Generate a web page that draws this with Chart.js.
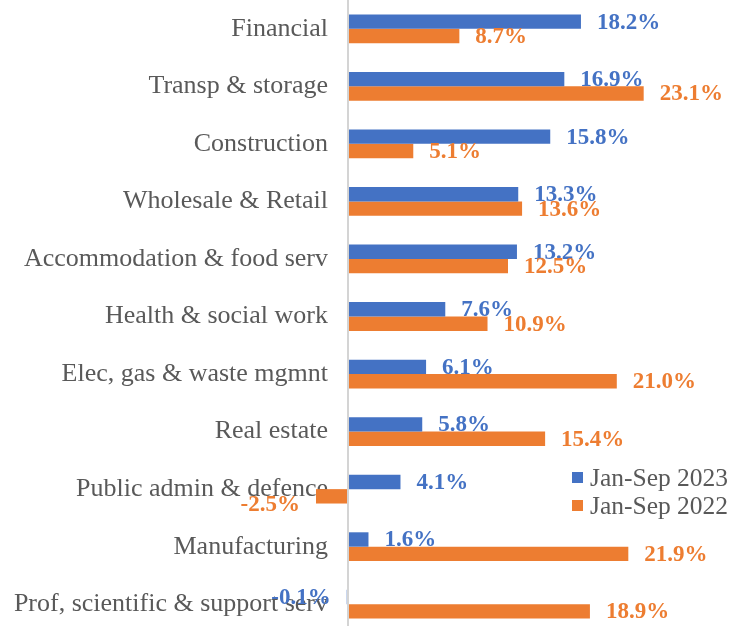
<!DOCTYPE html>
<html>
<head>
<meta charset="utf-8">
<script src="https://cdn.jsdelivr.net/npm/chart.js@4/dist/chart.umd.min.js"></script>
<style>
  html, body { margin: 0; padding: 0; background: #ffffff; overflow: hidden; }
  #wrap { position: relative; width: 732px; height: 633px; }
</style>
</head>
<body>
<div id="wrap"><canvas id="c"></canvas></div>
<script>
const categories = ['Financial', 'Transp & storage', 'Construction', 'Wholesale & Retail',
  'Accommodation & food serv', 'Health & social work', 'Elec, gas & waste mgmnt',
  'Real estate', 'Public admin & defence', 'Manufacturing', 'Prof, scientific & support serv'];
const seriesNames = ['Jan-Sep 2023', 'Jan-Sep 2022'];
const values2023 = [18.2, 16.9, 15.8, 13.3, 13.2, 7.6, 6.1, 5.8, 4.1, 1.6, -0.1];
const values2022 = [8.7, 23.1, 5.1, 13.6, 12.5, 10.9, 21.0, 15.4, -2.5, 21.9, 18.9];

const BLUE = '#4472C4';
const ORANGE = '#ED7D31';
const SERIF = '"Liberation Serif", "Times New Roman", serif';

const valueLabels = {
  id: 'valueLabels',
  afterDatasetsDraw(chart) {
    const ctx = chart.ctx;
    ctx.save();
    ctx.font = 'bold 23px ' + SERIF;
    ctx.textBaseline = 'middle';
    chart.data.datasets.forEach((ds, di) => {
      const meta = chart.getDatasetMeta(di);
      meta.data.forEach((el, i) => {
        const v = ds.data[i];
        const txt = v.toFixed(1) + '%';
        ctx.fillStyle = ds.backgroundColor;
        const dy = v < -1 ? 9 : 1;
        if (v >= 0) {
          ctx.textAlign = 'left';
          ctx.fillText(txt, el.x + 16, el.y + dy);
        } else {
          ctx.textAlign = 'right';
          ctx.fillText(txt, el.x - 16, el.y + dy);
        }
      });
    });
    ctx.restore();
  }
};

const customLegend = {
  id: 'customLegend',
  afterDraw(chart) {
    const ctx = chart.ctx;
    ctx.save();
    ctx.font = '25.5px ' + SERIF;
    ctx.textBaseline = 'middle';
    ctx.textAlign = 'left';
    const x0 = 572, y0 = 478, gap = 28;
    chart.data.datasets.forEach((ds, di) => {
      const y = y0 + di * gap;
      ctx.fillStyle = ds.backgroundColor;
      ctx.fillRect(x0, y - 6, 11, 11);
      ctx.fillStyle = '#595959';
      ctx.fillText(ds.label, x0 + 18, y + 1);
    });
    ctx.restore();
  }
};

new Chart(document.getElementById('c'), {
  type: 'bar',
  data: {
    labels: categories,
    datasets: [
      { label: seriesNames[0], data: values2023, backgroundColor: BLUE, borderWidth: 0,
        categoryPercentage: 0.5, barPercentage: 1.0, clip: false },
      { label: seriesNames[1], data: values2022, backgroundColor: ORANGE, borderWidth: 0,
        categoryPercentage: 0.5, barPercentage: 1.0, clip: false }
    ]
  },
  options: {
    indexAxis: 'y',
    responsive: true,
    maintainAspectRatio: false,
    animation: false,
    layout: { padding: 0 },
    plugins: {
      legend: { display: false },
      tooltip: { enabled: false },
      title: { display: false }
    },
    scales: {
      x: {
        min: -1.5625,
        max: 30,
        ticks: { display: false },
        afterBuildTicks(scale) { scale.ticks = [{ value: 0 }]; },
        border: { display: false },
        grid: {
          drawTicks: false,
          lineWidth: 2,
          color: '#d4d4d4'
        }
      },
      y: {
        border: { display: false },
        grid: { display: false, drawTicks: false },
        ticks: {
          padding: 0,
          color: '#595959',
          font: { family: SERIF, size: 26 }
        },
        afterFit(scale) {
          scale.width = 328;
          scale.paddingTop = 0;
          scale.paddingBottom = 0;
        }
      }
    }
  },
  plugins: [valueLabels, customLegend]
});
</script>
</body>
</html>
